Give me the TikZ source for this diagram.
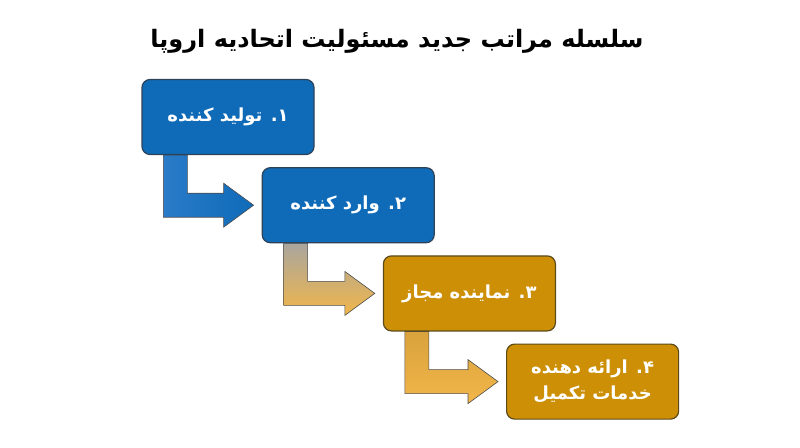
\documentclass[tikz,border=0pt]{standalone}
\usepackage{fontspec}
\newfontfamily\farsifont[Script=Arabic]{DejaVu Sans}
\TeXXeTstate=1
\usetikzlibrary{backgrounds, positioning, calc}

\definecolor{boxblue}{HTML}{0F6BB8}
\definecolor{edgeblue}{HTML}{2E4258}
\definecolor{boxgold}{HTML}{CC8F05}
\definecolor{edgegold}{HTML}{5C4A1A}
\definecolor{arrowblue}{HTML}{2A7BC8}
\definecolor{arrowgrey}{HTML}{A9A69E}
\definecolor{arrowgold}{HTML}{D9A23C}
\definecolor{arrowlight}{HTML}{F2B64A}

\begin{document}
\begin{tikzpicture}[
			x=1pt, y=-1pt,
			nodes = {
				align = center
			},
			title/.style={
				font=\farsifont\bfseries\fontsize{24}{28}\selectfont,
				text=black
			},
			block/.style={
				draw,
				rectangle,
				rounded corners=8pt,
				line width=1.2pt,
				minimum width=172pt,
				minimum height=75pt,
				text=white,
				font=\farsifont\bfseries\fontsize{18}{26}\selectfont
			},
			blueblock/.style={
				block,
				fill=boxblue,
				draw=edgeblue
			},
			goldblock/.style={
				block,
				fill=boxgold,
				draw=edgegold
			},
			elbow/.style={
				draw=black!70,
				line width=0.6pt
			},
			elbowblue/.style={
				elbow,
				left color=arrowblue,
				right color=boxblue
			},
			elbowmix/.style={
				elbow,
				top color=arrowgrey,
				bottom color=arrowlight
			},
			elbowgold/.style={
				elbow,
				top color=arrowgold,
				bottom color=arrowlight
			}
		]
			\useasboundingbox (0,0) rectangle (800,447);

			\node[title] (t) at (397,41) {\beginR سلسله مراتب جدید مسئولیت اتحادیه اروپا\endR};

			\node[blueblock] (s1) at (228,117) {\beginR ۱. تولید کننده\endR};
			\node[blueblock] (s2) [below right=12pt and -53pt of s1] {\beginR ۲. وارد کننده\endR};
			\node[goldblock] (s3) [below right=12pt and -52pt of s2] {\beginR ۳. نماینده مجاز\endR};
			\node[goldblock] (s4) [below right=12pt and -50pt of s3] {\beginR ۴. ارائه دهنده\endR\\\beginR خدمات تکمیل\endR};

			\begin{scope}[on background layer]
				\foreach \a/\b/\c in {s1/s2/elbowblue, s2/s3/elbowmix, s3/s4/elbowgold}{
					\draw[\c] ($(\a.south west)+(22,0)$) coordinate (p\a) -- ++(24,0)
						|- ($(\b.west)+(-38,-12)$) -- ++(0,-10) -- ($(\b.west)+(-8,0)$)
						-- ++(-30,22) -- ++(0,-10) -| (p\a) -- cycle;
				}
			\end{scope}

		\end{tikzpicture}
\end{document}
